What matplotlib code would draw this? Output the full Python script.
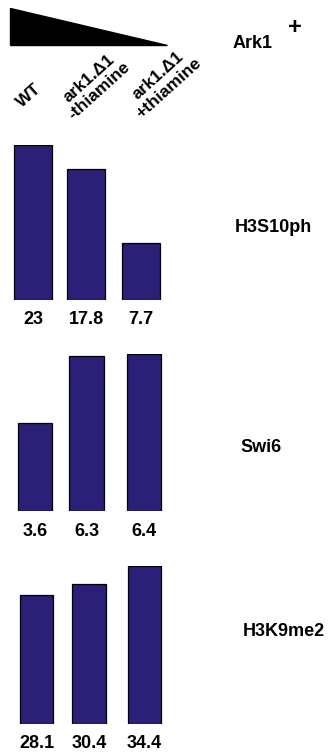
import matplotlib
matplotlib.use("Agg")
import matplotlib.pyplot as plt
from matplotlib.patches import Polygon

plt.rcParams['font.family'] = ['Liberation Sans', 'DejaVu Sans']
plt.rcParams['font.weight'] = 'bold'

# data
strains = ['WT', 'ark1.\u03941\n-thiamine', 'ark1.\u03941\n+thiamine']
marks = ['H3S10ph', 'Swi6', 'H3K9me2']
# bar heights as drawn (relative units) and the numbers printed under them
h3s10ph_heights = [23, 19.4, 8.5]
h3s10ph_labels = ['23', '17.8', '7.7']
swi6_heights = [3.6, 6.3, 6.4]
swi6_labels = ['3.6', '6.3', '6.4']
h3k9me2_heights = [28.1, 30.4, 34.4]
h3k9me2_labels = ['28.1', '30.4', '34.4']

W, H = 330, 752
bar_color = '#2a2078'
fig = plt.figure(figsize=(W / 100, H / 100), dpi=100)


def px(x, y):
    # pixel position (from top-left) -> figure fraction
    return x / W, 1 - y / H


# header: decreasing Ark1 wedge
wedge = Polygon([px(10, 8), px(10, 45), px(167, 45)], closed=True,
                transform=fig.transFigure, facecolor='black', edgecolor='black')
fig.patches.append(wedge)
fig.text(*px(253, 44), 'Ark1', ha='center', va='center', fontsize=13)
fig.text(*px(295, 28), '+', ha='center', va='center', fontsize=17)

label_pos = [(29, 96), (94, 85), (163, 82)]
for name, (x, y) in zip(strains, label_pos):
    fig.text(*px(x, y), name, ha='center', va='center', rotation=42,
             rotation_mode='anchor', multialignment='center', fontsize=12.5,
             linespacing=1.1)

# panels: (heights, labels, baseline px, full-scale px, bar centres, bar width, row label pos)
panels = [
    (h3s10ph_heights, h3s10ph_labels, 300, 155, [33, 86, 140.5], 38, (235, 228)),
    (swi6_heights, swi6_labels, 511, 157, [35, 86.5, 144], 34.5, (240, 447)),
    (h3k9me2_heights, h3k9me2_labels, 724, 158, [36.5, 89, 144.5], 33.5, (243, 632)),
]

for mark, (heights, labels, base, span, centres, width, lab) in zip(marks, panels):
    ax = fig.add_axes([0, (H - base) / H, 1, span / H])
    ax.set_xlim(0, W)
    ax.set_ylim(0, max(heights))
    bars = ax.bar(centres, heights, width=width, color=bar_color,
                  edgecolor='black', linewidth=0.9)
    for b, t in zip(bars, labels):
        ax.annotate(t, (b.get_x() + b.get_width() / 2, 0), xytext=(0, -20),
                    textcoords='offset pixels', ha='center', va='center',
                    fontsize=13, annotation_clip=False)
    ax.axis('off')
    fig.text(*px(*lab), mark, ha='left', va='center', fontsize=13)

fig.savefig('out.png', dpi=100)
